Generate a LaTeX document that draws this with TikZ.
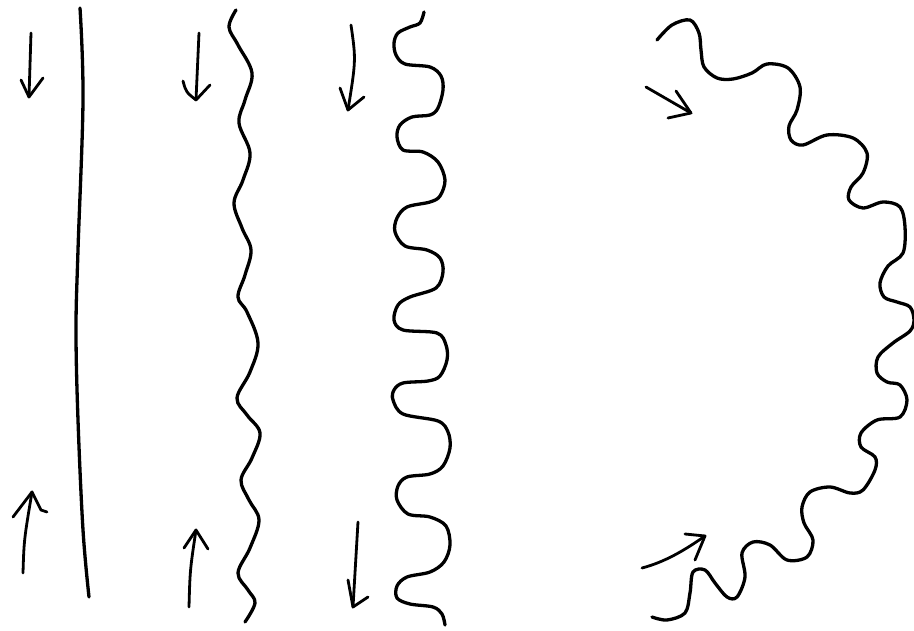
\documentclass[tikz,border=0pt]{standalone}
\begin{document}
\begin{tikzpicture}[x=1pt,y=-1pt,
  ink/.style={line width=3.3pt,line cap=round,line join=round},
  pen/.style={line width=2.8pt,line cap=round,line join=round}]
\useasboundingbox (0,0) rectangle (914,631);
\fill[white] (0,0) rectangle (914,631);
% straight line
\draw[ink] plot[smooth,tension=0.6] coordinates {(80,8) (83,100) (78,250) (76,330) (78,420) (83,530) (89,597)};
% gentle wave
\draw[ink] plot[smooth,tension=0.6] coordinates {(236,10) (229,27) (238,45) (252,73) (245,100) (239,123) (250,153) (243,180) (234,203) (242,228) (251,250) (245,275) (238,297) (247,312) (258,343) (250,372) (237,398) (247,415) (260,433) (252,458) (241,480) (249,500) (259,520) (250,548) (238,573) (248,590) (255,603) (245,622)};
% strong wave
\draw[ink] plot[smooth,tension=0.55] coordinates {(424,12) (420,23) (410,27) (398,33) (394,43) (396,55) (405,64) (430,67) (441,76) (443,90) (438,108) (430,115) (412,117) (400,125) (397,137) (403,150) (423,152) (438,162) (445,180) (440,196) (430,202) (407,207) (397,218) (395,232) (405,246) (427,250) (440,258) (443,272) (436,288) (410,297) (398,305) (394,320) (403,330) (437,333) (446,345) (447,360) (440,376) (428,381) (403,383) (394,390) (393,400) (403,414) (438,421) (448,432) (450,448) (443,466) (430,474) (407,477) (398,486) (397,500) (408,514) (430,517) (446,526) (450,545) (444,562) (430,572) (407,577) (397,586) (397,598) (410,604) (433,607) (442,614) (445,625)};
% arc wave
\draw[ink] plot[smooth,tension=0.55] coordinates {(657,40) (672,25) (690,20) (699,33) (701,50) (704,67) (717,78) (733,79) (752,73) (767,64) (788,68) (800,87) (797,110) (789,126) (791,140) (803,145) (827,135) (853,138) (867,153) (863,173) (851,187) (849,200) (863,208) (883,202) (900,207) (905,227) (903,253) (888,266) (880,283) (884,297) (897,302) (910,307) (914,320) (910,331) (893,343) (878,357) (877,373) (887,382) (900,385) (907,400) (900,417) (877,420) (861,433) (861,447) (875,457) (875,470) (863,490) (850,493) (830,487) (810,492) (802,507) (804,523) (813,540) (807,557) (787,560) (770,545) (753,542) (742,553) (745,577) (737,597) (727,597) (715,583) (705,570) (693,572) (690,593) (685,613) (667,620) (652,617)};
% arrows column 1
\draw[pen] (31,33) -- (29,97);
\draw[pen] (21,80) -- (29,97) -- (43,78);
\draw[pen] (23,573) .. controls (24,540) .. (32,492);
\draw[pen] (13,517) -- (32,492) -- (41,510) -- (47,512);
% arrows column 2
\draw[pen] (199,33) -- (196,100);
\draw[pen] (183,81) .. controls (186,92) .. (196,100) -- (210,85);
\draw[pen] (189,607) .. controls (190,570) .. (196,530);
\draw[pen] (184,548) -- (196,530) -- (208,549);
% arrows column 3
\draw[pen] (351,25) .. controls (356,60) .. (348,110);
\draw[pen] (340,88) -- (348,110) -- (364,97);
\draw[pen] (358,522) -- (353,607);
\draw[pen] (348,580) -- (353,607) -- (368,597);
% arrows arc
\draw[pen] (646,87) -- (691,113);
\draw[pen] (676,91) -- (691,113) -- (668,118);
\draw[pen] (642,568) .. controls (665,562) and (685,550) .. (705,536);
\draw[pen] (685,534) -- (705,536) -- (695,560);
\end{tikzpicture}
\end{document}
